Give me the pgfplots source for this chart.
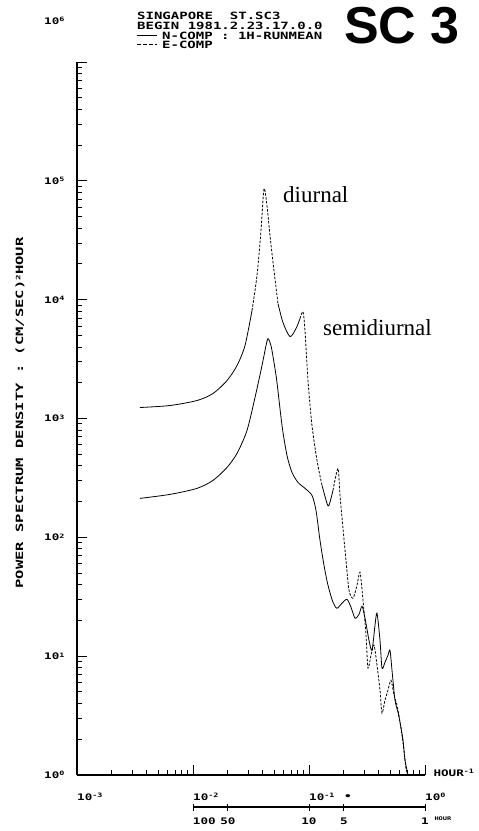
\documentclass[border=0pt]{standalone}
\usepackage{fontspec}
\setmainfont{Liberation Serif}
\newfontfamily\plotfont[FakeStretch=1.4]{DejaVu Sans Mono}
\newfontfamily\labelfont[FakeStretch=1.55]{DejaVu Sans Mono}
\newfontfamily\headfont{Liberation Sans}
\usepackage{pgfplots}
\pgfplotsset{compat=1.18}

% plotter-style power of ten
\newcommand\pw[1]{10\raisebox{0.5ex}{\fontsize{6}{6}\selectfont #1}}

% N-component spectrum (1H running mean removed)
\pgfplotstableread{
f       P
0.00349 212.7
0.00634 229.8
0.01083 258.2
0.01487 301.3
0.01964 387.5
0.02395 508
0.02921 793
0.03424 1502
0.03934 2788
0.04260 4106
0.04433 4702
0.04704 4106
0.04993 2955
0.05299 2007
0.05853 873
0.06461 488.8
0.07136 351.7
0.08039 289.9
0.09237 258.2
0.1061  225.4
0.1149  168.6
0.1244  94.4
0.1347  58.2
0.1458  39.5
0.1610  28.4
0.1743  25.3
0.1925  27.9
0.2126  30.1
0.2302  25.8
0.2492  20.9
0.2698  22.5
0.2864  26.3
0.3040  20.9
0.3291  13.6
0.3492  11.2
0.3707  18.2
0.3857  23.0
0.4094  13.6
0.4260  7.93
0.4522  8.90
0.4798  10.2
0.4993  11.2
0.5194  7.63
0.5513  4.27
0.5851  3.38
0.6088  2.79
0.6461  1.97
0.6723  1.34
0.7136  1.00
}\ncomp

\begin{document}
\begin{tikzpicture}[x=1pt,y=1pt]
\useasboundingbox (0pt,0pt) rectangle (479pt,831pt);

\begin{axis}[
  at={(77pt,56pt)}, anchor=south west,
  scale only axis, width=348pt, height=713pt,
  xmode=log, ymode=log,
  xmin=1e-3, xmax=1, ymin=1, ymax=1e6,
  axis lines*=left,
  axis line style={line width=1.3pt},
  tick align=inside,
  major tick length=10pt, minor tick length=5pt,
  tick style={line width=0.9pt, black},
  xtick={1e-3,1e-2,1e-1,1},
  xticklabels={\pw{-3},\pw{-2},\pw{-1},\pw{0}},
  minor xtick={0.002,0.003,0.004,0.005,0.006,0.007,0.008,0.009,
               0.02,0.03,0.04,0.05,0.06,0.07,0.08,0.09,
               0.2,0.3,0.4,0.5,0.6,0.7,0.8,0.9},
  ytick={1,10,100,1000,10000,100000,1000000},
  yticklabels={\pw{0},\pw{1},\pw{2},\pw{3},\pw{4},\pw{5},},
  minor ytick={2,3,4,5,6,7,8,9,20,30,40,50,60,70,80,90,
               200,300,400,500,600,700,800,900,
               2000,3000,4000,5000,6000,7000,8000,9000,
               20000,30000,40000,50000,60000,70000,80000,90000,
               200000,300000,400000,500000,600000,700000,800000,900000},
  xticklabel style={anchor=west, inner xsep=0pt, yshift=-22pt},
  yticklabel style={anchor=east, xshift=-9pt},
  ticklabel style={font=\plotfont\bfseries\fontsize{9}{9}\selectfont},
  extra x ticks={0.2},
  extra x tick labels={\textbullet},
  extra x tick style={major tick length=0pt},
  clip=false,
  every axis plot/.append style={smooth, tension=0.45},
]
% N-COMP
\addplot[black, line width=0.8pt] table[x=f, y=P] {\ncomp};

% E-COMP: long-period flank and troughs solid, steep flanks dashed
\addplot[black, line width=0.8pt] coordinates {
 (0.00349,1237) (0.00634,1286) (0.01083,1417) (0.01487,1622)
 (0.01964,2085) (0.02395,2788) (0.02807,4106) (0.03226,8081)};
\addplot[black, line width=0.8pt, dash pattern=on 2.5pt off 1.5pt] coordinates {
 (0.03226,8081) (0.03562,15910) (0.03857,37990) (0.04094,85670)
 (0.04346,61640) (0.04612,34500) (0.04993,17530) (0.05406,9256)};
\addplot[black, line width=0.8pt] coordinates {
 (0.05406,9256) (0.05970,6409) (0.06859,4888) (0.07726,5706) (0.08364,6923)};
\addplot[black, line width=0.8pt, dash pattern=on 2.5pt off 1.5pt] coordinates {
 (0.08364,6923) (0.08878,7928) (0.09237,5490) (0.09804,2085)
 (0.1061,873.4) (0.1172,443.7) (0.1295,273.5)};
\addplot[black, line width=0.8pt] coordinates {
 (0.1295,273.5) (0.1430,193.1) (0.1488,185.7) (0.1610,248.3)};
\addplot[black, line width=0.8pt, dash pattern=on 2.5pt off 1.5pt] coordinates {
 (0.1610,248.3) (0.1778,380.0) (0.1850,225.4) (0.1964,119.0)
 (0.2084,64.1) (0.2212,35.9) (0.2395,30.7) (0.2593,39.5)
 (0.2753,50.8) (0.2922,29.6) (0.3101,15.0) (0.3226,7.93)
 (0.3425,10.2) (0.3634,12.4) (0.3857,8.40) (0.4094,5.18)
 (0.4260,3.32) (0.4522,4.27) (0.4798,5.18) (0.5093,6.28)
 (0.5405,4.70) (0.5736,3.88) (0.6088,2.79) (0.6461,1.89)
 (0.6858,1.14) (0.7136,1.00)};

\node[anchor=west, font=\plotfont\bfseries\fontsize{9}{9}\selectfont]
  at (rel axis cs:1,0) [xshift=5pt, yshift=2pt] {HOUR\raisebox{0.5ex}{\fontsize{6}{6}\selectfont -1}};
\end{axis}

% top decade label, set apart above the axis end
\node[anchor=east, font=\plotfont\bfseries\fontsize{9}{9}\selectfont]
  at (68pt,810pt) {\pw{6}};

% period scale (hours)
\begin{axis}[
  at={(193pt,24pt)}, anchor=south west,
  scale only axis, width=232pt, height=10pt,
  xmode=log, xmin=0.01, xmax=1, ymin=0, ymax=1,
  axis x line*=bottom, axis y line=none,
  axis line style={line width=1.3pt},
  tick align=center, major tick length=7pt,
  tick style={line width=0.9pt, black},
  xtick={0.01,0.02,0.1,0.2,1},
  xticklabels={\makebox[0pt][l]{100},50,10,5,1},
  minor xtick={},
  xticklabel style={anchor=center, yshift=-11pt,
    font=\plotfont\bfseries\fontsize{9}{9}\selectfont},
  clip=false,
]
\node[anchor=west, font=\plotfont\bfseries\fontsize{5}{5}\selectfont]
  at (rel axis cs:1,0) [xshift=6pt, yshift=-12pt] {HOUR};
\end{axis}

% header
\begin{scope}[every node/.style={anchor=west, inner sep=0pt,
    font=\plotfont\bfseries\fontsize{10}{10}\selectfont}]
\node at (137pt,815pt) {SINGAPORE\ \ ST.SC3};
\node at (137pt,805pt) {BEGIN 1981.2.23.17.0.0};
\node at (162pt,795pt) {N-COMP : 1H-RUNMEAN};
\node at (162pt,786pt) {E-COMP};
\end{scope}
\draw[line width=1pt] (137pt,795pt) -- (157pt,795pt);
\draw[line width=1pt, dash pattern=on 4pt off 2pt] (137pt,786pt) -- (157pt,786pt);
\node[font=\headfont\bfseries\fontsize{52}{52}\selectfont, inner sep=0pt]
  at (402pt,805pt) {SC\ 3};

% axis title
\node[rotate=90, font=\labelfont\bfseries\fontsize{10}{10}\selectfont]
  at (20pt,418pt) {POWER SPECTRUM DENSITY : (CM/SEC)\raisebox{0.5ex}{\fontsize{6}{6}\selectfont 2}HOUR};

% annotations
\node[font=\fontsize{23}{23}\selectfont, anchor=west, inner sep=0pt] at (283pt,636pt) {diurnal};
\node[font=\fontsize{23}{23}\selectfont, anchor=west, inner sep=0pt] at (323pt,503pt) {semidiurnal};
\end{tikzpicture}
\end{document}
